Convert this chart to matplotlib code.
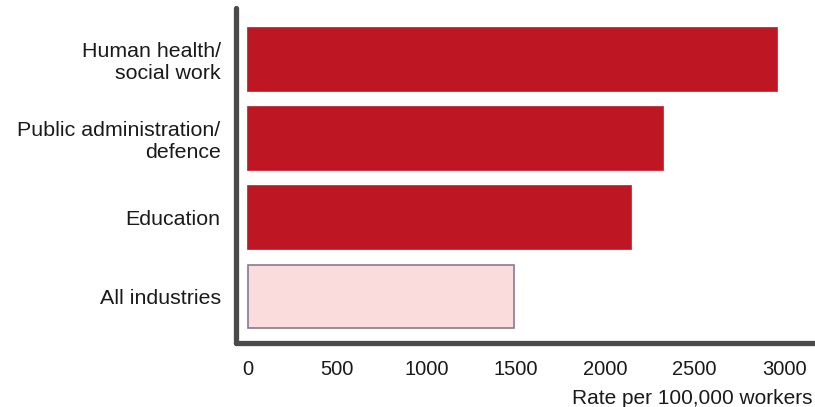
import matplotlib
matplotlib.use("Agg")
import matplotlib.pyplot as plt

categories = ["Human health/\nsocial work", "Public administration/\ndefence", "Education", "All industries"]
values = [2960, 2320, 2145, 1490]
face_colors = ["#be1622", "#be1622", "#be1622", "#fbdcdd"]
edge_colors = ["#be1622", "#be1622", "#be1622", "#8a7896"]
xticks = [0, 500, 1000, 1500, 2000, 2500, 3000]
xlabel = "Rate per 100,000 workers"

plt.rcParams['font.family'] = ['Liberation Sans', 'DejaVu Sans']

W, H = 815, 407
fig = plt.figure(figsize=(W / 100, H / 100), dpi=100)
ax = fig.add_axes([236 / W, 1 - 343 / H, 1 - 236 / W, (343 - 8) / H])

pos = list(range(len(categories)))
for p, v, fc, ec in zip(pos, values, face_colors, edge_colors):
    ax.barh(p, v, height=0.8, color=fc, edgecolor=ec, linewidth=1.2)

ax.set_xlim(-67, 3173)
ax.set_ylim(3.59, -0.65)
ax.set_yticks(pos)
ax.set_yticklabels(categories, fontsize=15.4, color="#1a1a1a", linespacing=1.2)
ax.set_xticks(xticks)
ax.set_xticklabels([str(t) for t in xticks], fontsize=14.5, color="#1a1a1a")
ax.tick_params(axis='both', length=0)
ax.tick_params(axis='y', pad=11)
ax.tick_params(axis='x', pad=12)

for s in ['top', 'right']:
    ax.spines[s].set_visible(False)
for s in ['left', 'bottom']:
    ax.spines[s].set_linewidth(3.8)
    ax.spines[s].set_color("#4a4a4a")
    ax.spines[s].set_capstyle('round')

fig.text(812 / W, 1 - 398 / H, xlabel, fontsize=15.0, color="#1a1a1a", ha='right', va='center')

fig.savefig("out.png", dpi=100)
